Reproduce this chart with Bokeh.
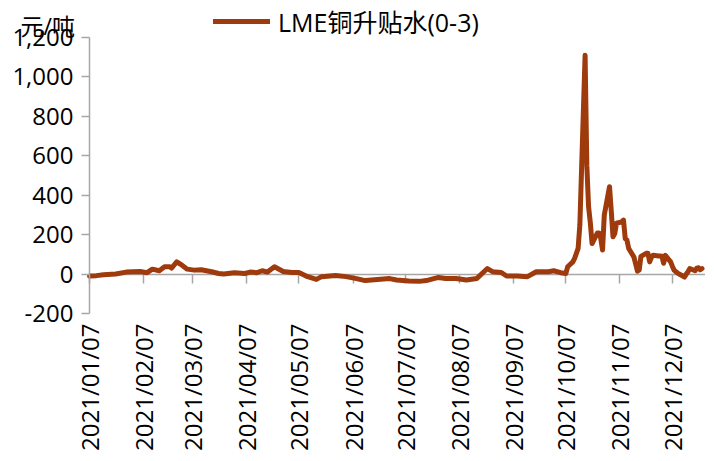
import math
import pandas as pd
from bokeh.plotting import figure
from bokeh.models import (Range1d, DatetimeAxis, FixedTicker, DatetimeTickFormatter,
                          NumeralTickFormatter, Legend, LegendItem, Label, ColumnDataSource)
from bokeh.embed import file_html
from bokeh.resources import INLINE
from bokeh.core.properties import value

series_name = "LME铜升贴水(0-3)"
unit_label = "元/吨"

dates = [
    "2021-01-07", "2021-01-11", "2021-01-15", "2021-01-22", "2021-01-28", "2021-02-05",
    "2021-02-09", "2021-02-12", "2021-02-16", "2021-02-19", "2021-02-22", "2021-02-23",
    "2021-02-26", "2021-03-01", "2021-03-04", "2021-03-08", "2021-03-12", "2021-03-18",
    "2021-03-22", "2021-03-25", "2021-03-31", "2021-04-06", "2021-04-09", "2021-04-13",
    "2021-04-16", "2021-04-19", "2021-04-23", "2021-04-28", "2021-05-03", "2021-05-07",
    "2021-05-12", "2021-05-17", "2021-05-20", "2021-05-28", "2021-06-03", "2021-06-09",
    "2021-06-14", "2021-06-21", "2021-06-28", "2021-07-02", "2021-07-09", "2021-07-15",
    "2021-07-19", "2021-07-26", "2021-07-30", "2021-08-05", "2021-08-11", "2021-08-17",
    "2021-08-23", "2021-08-26", "2021-08-31", "2021-09-03", "2021-09-09", "2021-09-15",
    "2021-09-20", "2021-09-27", "2021-09-30", "2021-10-04", "2021-10-07", "2021-10-08",
    "2021-10-11", "2021-10-12", "2021-10-13", "2021-10-14", "2021-10-15", "2021-10-18",
    "2021-10-19", "2021-10-20", "2021-10-21", "2021-10-22", "2021-10-25", "2021-10-26",
    "2021-10-27", "2021-10-28", "2021-10-29", "2021-11-01", "2021-11-02", "2021-11-03",
    "2021-11-04", "2021-11-05", "2021-11-08", "2021-11-09", "2021-11-10", "2021-11-11",
    "2021-11-12", "2021-11-15", "2021-11-16", "2021-11-17", "2021-11-18", "2021-11-19",
    "2021-11-22", "2021-11-23", "2021-11-24", "2021-11-25", "2021-11-26", "2021-11-29",
    "2021-11-30", "2021-12-01", "2021-12-02", "2021-12-03", "2021-12-06", "2021-12-07",
    "2021-12-08", "2021-12-09", "2021-12-10", "2021-12-13", "2021-12-14", "2021-12-15",
    "2021-12-16", "2021-12-17", "2021-12-20", "2021-12-21", "2021-12-22", "2021-12-23",
    "2021-12-24",
]
values = [
    -10, -8, -3, 0, 10, 13,
    7, 25, 17, 37, 37, 30,
    62, 45, 25, 20, 22, 12,
    3, 0, 7, 3, 10, 7,
    17, 10, 37, 13, 8, 8,
    -13, -27, -13, -7, -13, -23,
    -33, -27, -23, -30, -35, -37,
    -33, -17, -22, -22, -30, -22,
    28, 12, 8, -10, -10, -13,
    12, 12, 17, 7, 3, 37,
    62, 80, 105, 130, 250, 1110,
    550, 341, 260, 155, 208, 208,
    180, 122, 300, 443, 320, 189,
    205, 258, 265, 274, 180, 172,
    130, 86, 50, 15, 20, 90,
    105, 105, 62, 85, 96, 92,
    92, 91, 55, 95, 62, 40,
    20, 12, 5, -10, -15, 0,
    12, 28, 17, 30, 32, 22,
    28,
]
tick_dates = ["2021-01-07", "2021-02-07", "2021-03-07", "2021-04-07", "2021-05-07",
              "2021-06-07", "2021-07-07", "2021-08-07", "2021-09-07", "2021-10-07",
              "2021-11-07", "2021-12-07"]
y_ticks = [-200, 0, 200, 400, 600, 800, 1000, 1200]
x_start, x_end = "2021-01-07", "2021-12-26"
y_start, y_end = -200, 1200


def ms(s):
    return pd.Timestamp(s).value // 10**6


src = ColumnDataSource(data=dict(date=[ms(d) for d in dates], value=values))
tick_ms = [ms(d) for d in tick_dates]

# layout in pixels: axes box spans 616 x 276 px, starting 89 px from the left, 37 px from top
AX_LEFT, AX_TOP, AX_W, AX_H, AX_BOT = 89, 37, 616, 276, 10
ms_per_px = (ms(x_end) - ms(x_start)) / AX_W
units_per_px = (y_end - y_start) / AX_H
xr = Range1d(start=ms(x_start) - AX_LEFT * ms_per_px, end=ms(x_end))
yr = Range1d(start=y_start - AX_BOT * units_per_px, end=y_end + AX_TOP * units_per_px)

FONT = "Open Sans, Noto Sans CJK SC"
GREY = "#A6A6A6"
LINE = "#9E3A0B"

p = figure(frame_width=AX_LEFT + AX_W, frame_height=AX_TOP + AX_H + AX_BOT,
           x_axis_type="datetime", x_range=xr, y_range=yr,
           output_backend="svg", toolbar_location=None,
           min_border_left=0, min_border_right=0, min_border_top=0, min_border_bottom=0)
p.grid.visible = False
p.outline_line_color = None
p.background_fill_color = "white"

fmt = "%Y/%m/%d"
xa = p.xaxis[0]
xa.ticker = FixedTicker(ticks=tick_ms)
xa.formatter = DatetimeTickFormatter(microseconds=fmt, milliseconds=fmt, seconds=fmt, minsec=fmt,
                                     minutes=fmt, hourmin=fmt, hours=fmt, days=fmt,
                                     months=fmt, years=fmt)
xa.major_label_orientation = math.pi / 2
xa.axis_line_color = None
xa.major_tick_line_color = None
xa.minor_tick_line_color = None
xa.major_tick_out = 0
xa.major_label_standoff = 0
xa.major_label_text_font = FONT
xa.major_label_text_font_size = "24px"
xa.major_label_text_color = "#000000"

za = DatetimeAxis(ticker=FixedTicker(ticks=tick_ms), fixed_location=0,
                  bounds=(ms(x_start), ms(x_end)),
                  axis_line_color=GREY, axis_line_width=1.5,
                  major_tick_line_color=GREY, major_tick_line_width=1.5,
                  major_tick_out=9, major_tick_in=0,
                  minor_tick_line_color=None, major_label_text_color=None)
za.level = "underlay"
p.add_layout(za, "below")

ya = p.yaxis[0]
ya.fixed_location = ms(x_start)
ya.bounds = (y_start, y_end)
ya.ticker = FixedTicker(ticks=y_ticks)
ya.formatter = NumeralTickFormatter(format="0,0")
ya.axis_line_color = GREY
ya.axis_line_width = 1.5
ya.major_tick_line_color = GREY
ya.major_tick_line_width = 1.5
ya.major_tick_out = 8
ya.major_tick_in = 0
ya.minor_tick_line_color = None
ya.major_label_standoff = 8
ya.major_label_text_font = FONT
ya.major_label_text_font_size = "24px"
ya.major_label_text_color = "#000000"

r = p.line(x="date", y="value", source=src, line_color=LINE, line_width=5,
           line_join="round", line_cap="round")

legend = Legend(items=[LegendItem(label=value(series_name), renderers=[r])],
                location=(213, AX_BOT + AX_H - 2), padding=0, margin=0, border_line_color=None,
                background_fill_alpha=0, glyph_width=57, glyph_height=20,
                label_standoff=8, label_text_font=FONT, label_text_font_size="25px",
                label_height=20, label_text_color="#000000")
p.add_layout(legend)

p.add_layout(Label(x=20, y=AX_BOT + AX_H + AX_TOP - 25, x_units="screen", y_units="screen",
                   text=unit_label, text_font=FONT, text_font_size="23px",
                   text_baseline="middle", text_align="left", text_color="#000000"))

open("out.html", "w").write(file_html(p, INLINE))
